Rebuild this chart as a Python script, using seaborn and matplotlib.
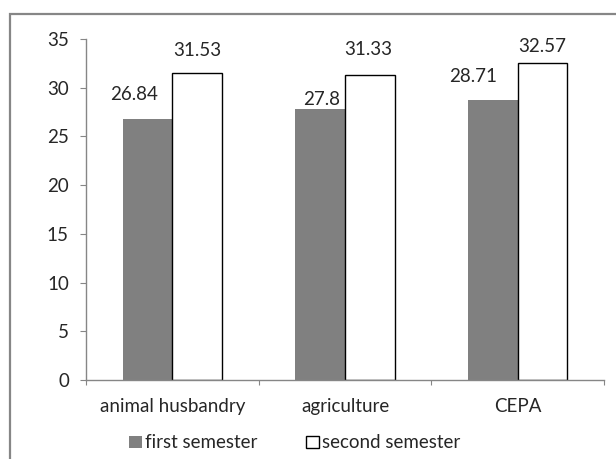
import matplotlib
matplotlib.use("Agg")
import matplotlib.pyplot as plt
import seaborn as sns
import pandas as pd
from matplotlib.patches import Rectangle

categories = ["animal husbandry", "agriculture", "CEPA"]
series_names = ["first semester", "second semester"]
first_semester = [26.84, 27.8, 28.71]
second_semester = [31.53, 31.33, 32.57]
y_ticks = [0, 5, 10, 15, 20, 25, 30, 35]

# label nudges (pixels): horizontal shift and height of label centre above bar top
label_dx = {"first semester": [-13, 1, -20], "second semester": [0, -1.5, 0]}
label_dy = {"first semester": [24, 10, 24], "second semester": [22.5, 25.5, 16]}

df = pd.DataFrame({
    "category": categories * 2,
    "semester": [series_names[0]] * 3 + [series_names[1]] * 3,
    "value": first_semester + second_semester,
})

sns.set_theme(style="white")
plt.rcParams["font.family"] = ["Lato", "DejaVu Sans"]
FS = 13.5
TXT = "#262626"
AX = "#868686"

W, H = 616, 459
fig = plt.figure(figsize=(W / 100, H / 100), dpi=100)
ax = fig.add_axes([86 / W, 1 - 380 / H, (604 - 86) / W, (380 - 39) / H])

palette = {series_names[0]: "#808080", series_names[1]: "white"}
sns.barplot(data=df, x="category", y="value", hue="semester", order=categories,
            hue_order=series_names, palette=palette, width=0.575, ax=ax,
            saturation=1, errorbar=None, legend=True)

for container, name in zip(ax.containers, series_names):
    for i, bar in enumerate(container):
        if name == series_names[1]:
            bar.set_edgecolor("black")
            bar.set_linewidth(1.0)
        else:
            bar.set_edgecolor("none")
        val = bar.get_height()
        ax.annotate(f"{val:g}", (bar.get_x() + bar.get_width() / 2, val),
                    xytext=(label_dx[name][i] * 0.72, label_dy[name][i] * 0.72),
                    textcoords="offset points", ha="center", va="center",
                    fontsize=FS, color=TXT)

ax.set_xlim(-0.5, 2.5)
ax.set_ylim(0, 35)
ax.set_yticks(y_ticks)
ax.set_xlabel("")
ax.set_ylabel("")

for side in ["top", "right"]:
    ax.spines[side].set_visible(False)
for side in ["left", "bottom"]:
    ax.spines[side].set_color(AX)
    ax.spines[side].set_linewidth(1.0)

ax.tick_params(axis="y", which="major", direction="out", length=4.3, width=0.8,
               color=AX, left=True, pad=8, labelsize=FS, labelcolor=TXT)
ax.tick_params(axis="x", which="major", length=0, pad=13, labelsize=FS, labelcolor=TXT)
ax.set_xticks([-0.5, 0.5, 1.5, 2.5], minor=True)
ax.tick_params(axis="x", which="minor", direction="out", length=3.6, width=0.8,
               color=AX, bottom=True)

handles, labels = ax.get_legend_handles_labels()
leg = ax.legend(handles, labels, loc="center", bbox_to_anchor=(295 / W, 1 - 443 / H),
                bbox_transform=fig.transFigure, ncol=2, frameon=False, fontsize=FS,
                handlelength=0.65, handleheight=0.65, handletextpad=0.2,
                columnspacing=2.6, labelcolor=TXT)
leg.legend_handles[0].set_edgecolor("none")
leg.legend_handles[1].set_edgecolor("black")
leg.legend_handles[1].set_linewidth(1.0)

# outer chart border
fig.add_artist(Rectangle((10 / W, -0.1), 1.2, 1 - 14 / H + 0.1,
                         transform=fig.transFigure, fill=False,
                         edgecolor=AX, linewidth=1.6))

fig.savefig("out.png", dpi=100)
